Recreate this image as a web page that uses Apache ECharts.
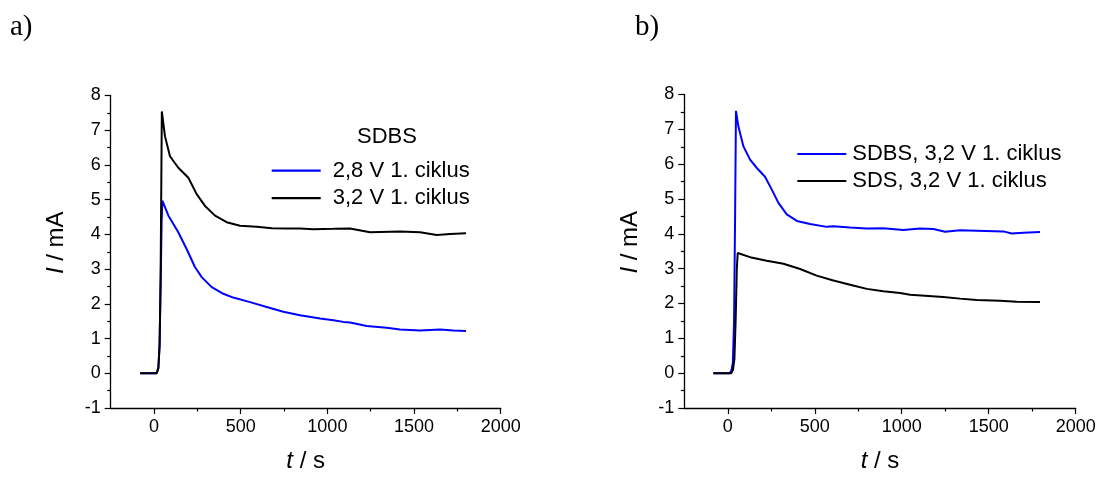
<!DOCTYPE html>
<html><head><meta charset="utf-8">
<script src="https://cdn.jsdelivr.net/npm/echarts@6/dist/echarts.min.js"></script>
<style>html,body{margin:0;padding:0;background:#fff}#c{width:1101px;height:478px}</style>
</head><body><div id="c"></div>
<script>
// ---- tick labels ----
const xTickLabels = [0, 500, 1000, 1500, 2000];
const xMinorTicks = [250, 750, 1250, 1750];
const yMin = -1, yMax = 8;

// ---- panel a) : SDBS ----
const aName1 = '2,8 V 1. ciklus';
const aTime1 = [-80, 0, 15, 25, 32, 38, 44, 48, 83, 140, 188, 236, 275, 333, 400, 457, 554, 650, 746, 842, 958, 1035, 1092, 1131, 1227, 1342, 1419, 1535, 1650, 1727, 1800];
const aCur1  = [0, 0, 0, 0.15, 0.8, 2.5, 4.4, 4.97, 4.54, 4.06, 3.58, 3.06, 2.77, 2.48, 2.29, 2.18, 2.05, 1.91, 1.77, 1.67, 1.58, 1.53, 1.48, 1.46, 1.36, 1.31, 1.26, 1.23, 1.26, 1.23, 1.22];

const aName2 = '3,2 V 1. ciklus';
const aTime2 = [-80, 0, 15, 25, 32, 38, 42, 45, 63, 92, 140, 198, 246, 294, 352, 419, 496, 592, 680, 765, 842, 919, 1035, 1131, 1246, 1419, 1535, 1631, 1708, 1800];
const aCur2  = [0, 0, 0, 0.15, 0.8, 2.8, 5.5, 7.54, 6.83, 6.25, 5.92, 5.63, 5.16, 4.82, 4.54, 4.35, 4.25, 4.22, 4.18, 4.17, 4.17, 4.15, 4.16, 4.17, 4.06, 4.08, 4.06, 3.98, 4.01, 4.03];

// ---- panel b) ----
const bName1 = 'SDBS, 3,2 V 1. ciklus';
const bTime1 = [-83, 0, 13, 22, 29, 36, 42, 47, 61, 90, 128, 167, 214, 253, 291, 339, 397, 473, 569, 607, 703, 799, 894, 1009, 1105, 1182, 1249, 1335, 1431, 1584, 1632, 1699, 1795];
const bCur1  = [0, 0, 0, 0.1, 0.3, 1.5, 4.5, 7.53, 7.08, 6.51, 6.13, 5.89, 5.64, 5.27, 4.89, 4.56, 4.37, 4.28, 4.20, 4.22, 4.18, 4.15, 4.16, 4.11, 4.15, 4.14, 4.06, 4.10, 4.09, 4.07, 4.01, 4.03, 4.05];

const bName2 = 'SDS, 3,2 V 1. ciklus';
const bTime2 = [-83, 0, 20, 30, 38, 45, 52, 57, 128, 224, 320, 416, 511, 607, 703, 799, 894, 990, 1048, 1239, 1335, 1431, 1565, 1661, 1795];
const bCur2  = [0, 0, 0, 0.1, 0.4, 1.5, 3.0, 3.45, 3.33, 3.23, 3.14, 2.99, 2.80, 2.66, 2.54, 2.42, 2.35, 2.30, 2.25, 2.19, 2.14, 2.10, 2.08, 2.05, 2.04];

const BLUE = '#0000FF', BLACK = '#000000';
const SANS = '"Liberation Sans", Arial, sans-serif';
const SERIF = '"Liberation Serif", "Times New Roman", serif';

function zip(t, v) { return t.map((x, i) => [x, v[i]]); }
const plain = v => String(v);

const grids = [
  { left: 110.7, top: 95.5, width: 390, height: 315 },
  { left: 684.3, top: 94.5, width: 391.4, height: 316 }
];

const xAxes = [], yAxes = [];
grids.forEach((g, gi) => {
  xAxes.push({
    type: 'value', gridIndex: gi, min: -250, max: 2000,
    name: '{i|t} / s', nameLocation: 'middle', nameGap: 41,
    nameTextStyle: { fontSize: 24, fontFamily: SANS, color: '#000',
      rich: { i: { fontStyle: 'italic', fontSize: 24, fontFamily: SANS, color: '#000' } } },
    axisLine: { show: true, onZero: false, lineStyle: { color: '#000', width: 1.3 } },
    axisTick: { show: true, inside: false, length: 6, customValues: xTickLabels, lineStyle: { color: '#000', width: 1.2 } },
    axisLabel: { show: true, margin: 10, fontSize: 18, fontFamily: SANS, color: '#000', customValues: xTickLabels, formatter: plain },
    splitLine: { show: false }
  });
  xAxes.push({
    type: 'value', gridIndex: gi, min: -250, max: 2000, position: 'bottom',
    axisLine: { show: false, onZero: false },
    axisTick: { show: true, inside: false, length: 3.5, customValues: xMinorTicks, lineStyle: { color: '#000', width: 1.2 } },
    axisLabel: { show: false, customValues: xMinorTicks },
    splitLine: { show: false }
  });
  yAxes.push({
    type: 'value', gridIndex: gi, min: yMin, max: yMax, interval: 1,
    name: '{i|I} / mA', nameLocation: 'middle', nameGap: 42,
    nameTextStyle: { fontSize: 24, fontFamily: SANS, color: '#000', padding: [0, 0, 0, 18],
      rich: { i: { fontStyle: 'italic', fontSize: 24, fontFamily: SANS, color: '#000' } } },
    axisLine: { show: true, onZero: false, lineStyle: { color: '#000', width: 1.3 } },
    axisTick: { show: true, inside: false, length: 6, lineStyle: { color: '#000', width: 1.2 } },
    minorTick: { show: true, splitNumber: 2, length: 3.5, lineStyle: { color: '#000', width: 1.2 } },
    axisLabel: { margin: 10, fontSize: 18, fontFamily: SANS, color: '#000', formatter: plain },
    splitLine: { show: false }
  });
});

function line(name, color, xi, yi, data) {
  return { name, type: 'line', xAxisIndex: xi, yAxisIndex: yi, data, color,
    showSymbol: false, symbol: 'none', smooth: false, animation: false,
    lineStyle: { color, width: 2 } };
}

const series = [
  line(aName1, BLUE, 0, 0, zip(aTime1, aCur1)),
  line(aName2, BLACK, 0, 0, zip(aTime2, aCur2)),
  line(bName1, BLUE, 2, 1, zip(bTime1, bCur1)),
  line(bName2, BLACK, 2, 1, zip(bTime2, bCur2))
];

const legendBase = {
  orient: 'vertical', padding: 0, icon: 'rect', itemWidth: 49, itemHeight: 2.2,
  selectedMode: false
};

const option = {
  animation: false,
  backgroundColor: '#fff',
  grid: grids,
  xAxis: xAxes,
  yAxis: yAxes,
  legend: [
    Object.assign({}, legendBase, { data: [aName1, aName2], left: 271.7, top: 159.7, itemGap: 5.5,
      textStyle: { fontSize: 22, lineHeight: 22, fontFamily: SANS, color: '#000', padding: [0, 0, 0, 7] } }),
    Object.assign({}, legendBase, { data: [bName1, bName2], left: 797.3, top: 143, itemGap: 5,
      textStyle: { fontSize: 22, lineHeight: 22, fontFamily: SANS, color: '#000', padding: [0, 0, 0, 1] } })
  ],
  graphic: [
    { type: 'text', x: 10, y: 27.5, style: { text: 'a)', fontSize: 29, fontFamily: SERIF, fill: '#000', align: 'left', verticalAlign: 'middle' } },
    { type: 'text', x: 635, y: 27.5, style: { text: 'b)', fontSize: 29, fontFamily: SERIF, fill: '#000', align: 'left', verticalAlign: 'middle' } },
    { type: 'text', x: 387, y: 137, style: { text: 'SDBS', fontSize: 22, fontFamily: SANS, fill: '#000', align: 'center', verticalAlign: 'middle' } }
  ],
  series
};

const chart = echarts.init(document.getElementById('c'), null, { renderer: 'canvas' });
chart.setOption(option);
</script>
</body></html>
